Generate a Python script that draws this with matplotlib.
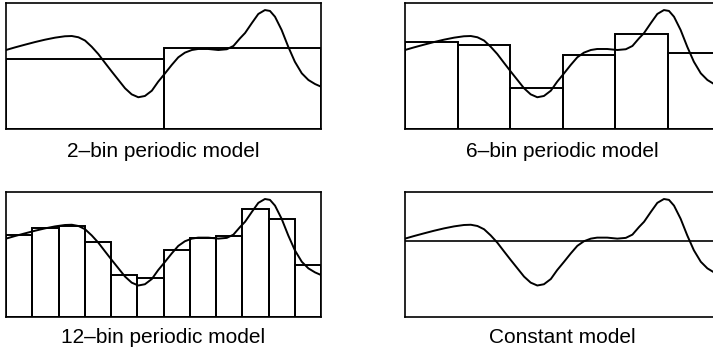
import numpy as np
import matplotlib
matplotlib.use('Agg')
import matplotlib.pyplot as plt

plt.rcParams['font.family'] = ['Liberation Sans', 'DejaVu Sans']

# the underlying periodic signal (x as fraction of period, y as fraction of panel height)
curve_x = [0.0, 0.029, 0.060, 0.092, 0.124, 0.156, 0.187, 0.209, 0.230, 0.251,
           0.272, 0.293, 0.314, 0.336, 0.357, 0.378, 0.399, 0.420, 0.441, 0.463,
           0.483, 0.505, 0.526, 0.547, 0.568, 0.590, 0.610, 0.642, 0.674, 0.701,
           0.722, 0.743, 0.759, 0.780, 0.801, 0.822, 0.838, 0.854, 0.875, 0.896,
           0.917, 0.939, 0.960, 0.981, 1.0]
curve_y = [0.627, 0.648, 0.669, 0.690, 0.709, 0.725, 0.736, 0.738, 0.728, 0.702,
           0.653, 0.595, 0.526, 0.455, 0.389, 0.323, 0.275, 0.252, 0.262, 0.304,
           0.375, 0.442, 0.508, 0.569, 0.606, 0.627, 0.635, 0.635, 0.627, 0.633,
           0.659, 0.720, 0.762, 0.839, 0.913, 0.944, 0.937, 0.891, 0.786, 0.653,
           0.534, 0.442, 0.389, 0.357, 0.336]

bins2 = [0.557, 0.645]
bins6 = [0.687, 0.666, 0.324, 0.586, 0.756, 0.602]
bins12 = [0.659, 0.712, 0.725, 0.600, 0.333, 0.309,
          0.539, 0.629, 0.645, 0.861, 0.781, 0.413]
bins1 = [0.605]

titles = ['2\u2013bin periodic model', '6\u2013bin periodic model',
          '12\u2013bin periodic model', 'Constant model']

W, H = 713, 351
fig = plt.figure(figsize=(W / 100, H / 100), dpi=100)

# panel boxes in pixels: (left, top, right, bottom), plus caption baseline
boxes = [(6, 3, 321, 129), (405, 3, 720, 129),
         (6, 192, 321, 317), (405, 192, 720, 317)]
baselines = [157, 157, 343, 343]

for (l, t, r, b), base, bins, title in zip(boxes, baselines,
                                           [bins2, bins6, bins12, bins1], titles):
  ax = fig.add_axes([l / W, (H - b) / H, (r - l) / W, (b - t) / H])
  n = len(bins)
  if n > 1:
    ax.bar(np.arange(n) / n, bins, width=1.0 / n, align='edge',
           facecolor='none', edgecolor='black', linewidth=1.4)
  else:
    ax.axhline(bins[0], color='black', linewidth=1.2)
  ax.plot(curve_x, curve_y, color='black', linewidth=1.4,
          solid_joinstyle='round')
  ax.set_xlim(0, 1)
  ax.set_ylim(0, 1)
  ax.set_xticks([])
  ax.set_yticks([])
  for s in ax.spines.values():
    s.set_linewidth(1.2)
  fig.text((l + r) / 2 / W, (H - base) / H, title, ha='center',
           va='baseline', fontsize=15)

fig.savefig('out.png', dpi=100)
